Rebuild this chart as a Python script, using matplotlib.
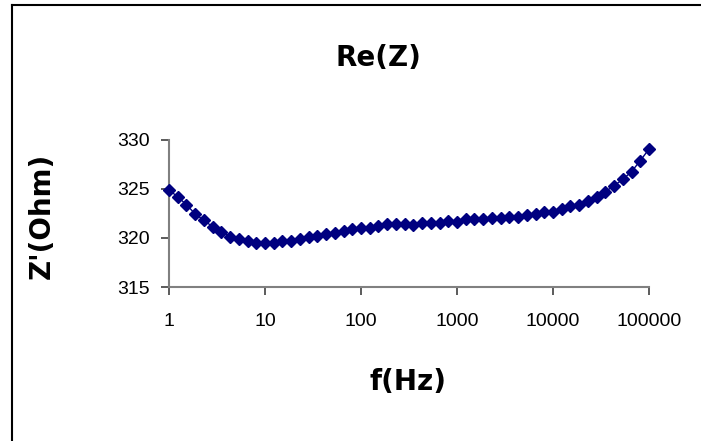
import numpy as np
import matplotlib
matplotlib.use("Agg")
import matplotlib.pyplot as plt
from matplotlib.lines import Line2D
from matplotlib.ticker import FixedLocator, FixedFormatter, NullLocator

# Data (56 points, evenly spaced on log axis 1 Hz .. 100 kHz)
freq_hz = np.logspace(0, 5, 56)
re_z = [
    324.9, 324.2, 323.4, 322.45, 321.8, 321.15, 320.65, 320.15, 319.87, 319.7,
    319.5, 319.45, 319.5, 319.7, 319.7, 319.87, 320.07, 320.2, 320.37, 320.54,
    320.75, 320.89, 321.05, 321.05, 321.26, 321.39, 321.39, 321.39, 321.33, 321.5,
    321.5, 321.5, 321.73, 321.67, 321.9, 321.9, 321.9, 322.0, 322.0, 322.18,
    322.18, 322.35,
    322.45, 322.62, 322.62, 322.96, 323.3, 323.37, 323.78, 324.22, 324.73, 325.34,
    325.99, 326.77, 327.89, 329.08,
]
y_ticks = [315, 320, 325, 330]
x_ticks = [1, 10, 100, 1000, 10000, 100000]
x_tick_labels = ["1", "10", "100", "1000", "10000", "100000"]

plt.rcParams['font.family'] = ['Liberation Sans', 'DejaVu Sans']

W, H = 701, 441
fig = plt.figure(figsize=(W / 100, H / 100), dpi=100)
ax = fig.add_axes([169 / W, 1 - 287 / H, (649 - 169) / W, (287 - 140) / H])

ax.plot(freq_hz, re_z, color='#000080', lw=1.0, marker='D', markersize=6.5,
        markerfacecolor='#000080', markeredgecolor='#000080', zorder=3, clip_on=False)

ax.set_xscale('log')
ax.set_xlim(1, 100000)
ax.set_ylim(315, 330)
ax.xaxis.set_major_locator(FixedLocator(x_ticks))
ax.xaxis.set_major_formatter(FixedFormatter(x_tick_labels))
ax.xaxis.set_minor_locator(NullLocator())
ax.yaxis.set_major_locator(FixedLocator(y_ticks))

for s in ['top', 'right']:
    ax.spines[s].set_visible(False)
for s in ['left', 'bottom']:
    ax.spines[s].set_color('#808080')
    ax.spines[s].set_linewidth(1.5)
ax.tick_params(axis='both', direction='out', length=6, width=1.2, color='#404040',
               labelsize=14, labelcolor='black')
ax.tick_params(axis='x', pad=13)
ax.tick_params(axis='y', pad=8)

bold = dict(family=['DejaVu Sans'], fontweight='bold', fontsize=20)
fig.text(378 / W, 1 - 58 / H, "Re(Z)", ha='center', va='center', **bold)
fig.text(408 / W, 1 - 382 / H, "f(Hz)", ha='center', va='center', **bold)
fig.text(42 / W, 1 - 216 / H, "Z'(Ohm)", ha='center', va='center', rotation=90, **bold)

# outer frame (top and left edges visible)
fig.add_artist(Line2D([12 / W, 12 / W], [0, 1 - 5 / H], transform=fig.transFigure, color='black', lw=1.5))
fig.add_artist(Line2D([12 / W, 1], [1 - 5 / H, 1 - 5 / H], transform=fig.transFigure, color='black', lw=1.5))

fig.savefig("out.png", dpi=100)
